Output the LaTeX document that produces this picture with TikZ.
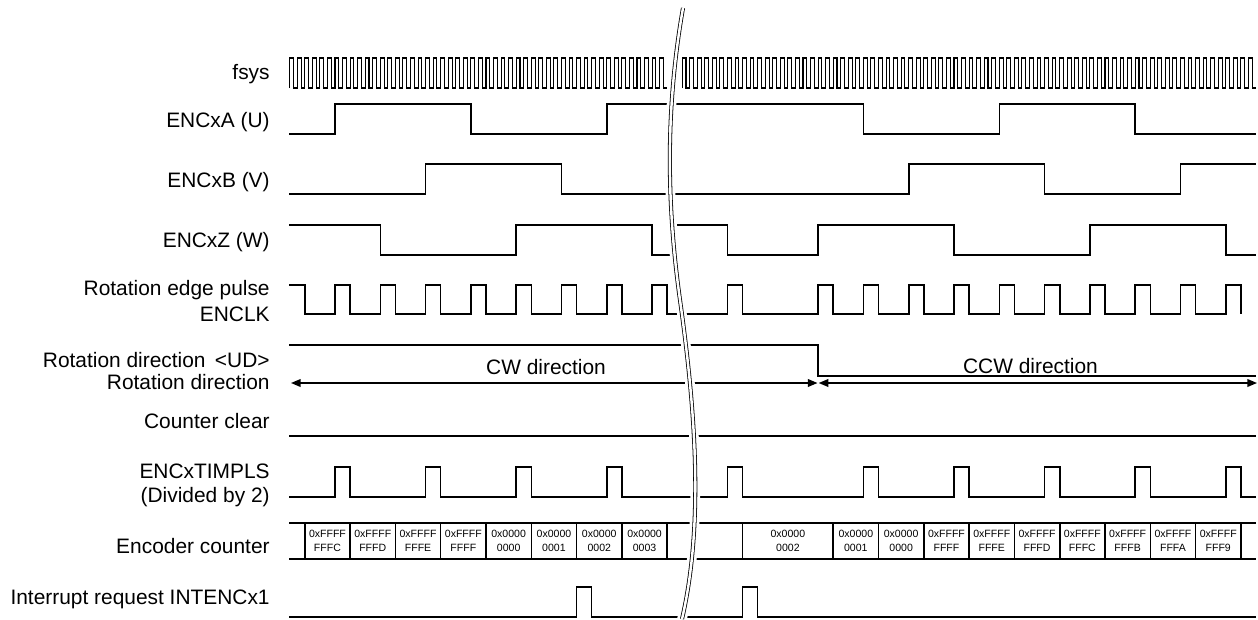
\documentclass[tikz,border=0pt]{standalone}
\usepackage{fontspec}
\setmainfont{Liberation Sans}
\usetikzlibrary{arrows.meta}

\begin{document}
\begin{tikzpicture}[
    x=0.02cm, y=-0.02cm,
    wave/.style={
        line width=0.9pt,
        line join=miter
    },
    clock/.style={
        line width=0.6pt
    },
    siglabel/.style={
        anchor=base east,
        inner sep=0pt,
        font=\fontsize{11.9}{14}\selectfont
    },
    dirtext/.style={
        anchor=base,
        inner sep=0pt,
        font=\fontsize{11.9}{14}\selectfont
    },
    cntval/.style={
        align=center,
        inner sep=0pt,
        font=\fontsize{6}{8.3}\selectfont
    },
    dirarrow/.style={
        {Triangle[length=5.5pt,width=4.4pt]}-{Triangle[length=5.5pt,width=4.4pt]},
        line width=0.8pt
    },
    breakgap/.style={
        white,
        line width=5.5pt
    },
    breakline/.style={
        double=white,
        double distance=1.4pt,
        line width=0.45pt
    }
]
\useasboundingbox (0,0) rectangle (1258,619);

% ===== signal names =====
\node[siglabel] (lfsys) at (270,79) {fsys};
\node[siglabel] (lenca) at (270,127) {ENCxA (U)};
\node[siglabel] (lencb) at (270,187) {ENCxB (V)};
\node[siglabel] (lencz) at (270,247) {ENCxZ (W)};
\node[siglabel] (ledge) at (270,295) {Rotation edge pulse};
\node[siglabel] (lenclk) at (270,321) {ENCLK};
\node[siglabel] (lud) at (270,367) {Rotation direction\hspace{0.45em}<UD>};
\node[siglabel] (ldir) at (270,389) {Rotation direction};
\node[siglabel] (lclr) at (270,428) {Counter clear};
\node[siglabel] (ltim) at (270,478) {ENCxTIMPLS};
\node[siglabel] (ldiv) at (270,502) {(Divided by 2)};
\node[siglabel] (lcnt) at (270,553) {Encoder counter};
\node[siglabel] (lint) at (270,604) {Interrupt request INTENCx1};

% ===== fsys =====
\draw[clock] (289.7,88) \foreach \i in {0,...,49} { -- ++(0,-30) -- ++(3.775,0) -- ++(0,30) -- ++(3.775,0) };
\draw[clock] (682.2,88) \foreach \i in {0,...,75} { -- ++(0,-30) -- ++(3.775,0) -- ++(0,30) -- ++(3.775,0) };

% ===== ENCxA / ENCxB / ENCxZ =====
\draw[wave] (289,134) -- (335,134) -- (335,104) -- (470.9,104) -- (470.9,134) -- (606.8,134) -- (606.8,104)
    -- (863.4,104) -- (863.4,134) -- (999.3,134) -- (999.3,104) -- (1135.2,104) -- (1135.2,134) -- (1256,134);
\draw[wave] (289,194) -- (425.6,194) -- (425.6,164) -- (561.5,164) -- (561.5,194)
    -- (908.7,194) -- (908.7,164) -- (1044.6,164) -- (1044.6,194) -- (1180.5,194) -- (1180.5,164) -- (1256,164);
\draw[wave] (289,225) -- (380.3,225) -- (380.3,255) -- (516.2,255) -- (516.2,225) -- (652.1,225) -- (652.1,255)
    -- (672,255) -- (672,225) -- (727.5,225) -- (727.5,255) -- (818.1,255) -- (818.1,225) -- (954,225) -- (954,255)
    -- (1089.9,255) -- (1089.9,225) -- (1225.8,225) -- (1225.8,255) -- (1256,255);

% ===== ENCLK =====
\draw[wave] (289,285) -- (304.8,285) -- (304.8,314)
    \foreach \t in {335,380.3,425.6,470.9,516.2,561.5,606.8,652.1} { -- (\t,314) -- (\t,285) -- (\t+15.1,285) -- (\t+15.1,314) }
    \foreach \t in {727.5,818.1,863.4,908.7,954,999.3,1044.6,1089.9,1135.2,1180.5,1225.8} { -- (\t,314) -- (\t,285) -- (\t+15.1,285) -- (\t+15.1,314) };

% ===== rotation direction =====
\draw[wave] (289,345) -- (818.1,345) -- (818.1,376) -- (1256,376);
\coordinate (cwL) at (291,383);
\coordinate (cwR) at (817.5,383);
\coordinate (ccwL) at (818.7,383);
\coordinate (ccwR) at (1257,383);
\draw[dirarrow] (cwL) -- (cwR);
\draw[dirarrow] (ccwL) -- (ccwR);
\node[dirtext] (cw) at (546,374) {CW direction};
\node[dirtext] (ccw) at (1030.5,373) {CCW direction};

% ===== counter clear =====
\draw[wave] (289,436) -- (1256,436);

% ===== ENCxTIMPLS =====
\draw[wave] (289,497)
    \foreach \t in {335,425.6,516.2,606.8,727.5,863.4,954,1044.6,1135.2,1225.8} { -- (\t,497) -- (\t,467) -- (\t+15.1,467) -- (\t+15.1,497) }
    -- (1256,497);

% ===== encoder counter =====
\draw[wave] (289,523) -- (1256,523);
\draw[wave] (289,559) -- (1256,559);
\foreach \x in {304.8,350.1,395.4,440.7,486,531.3,576.6,621.9,667.2,742.6,833.2,878.5,923.8,969.1,1014.4,1059.7,1105,1150.3,1195.6,1240.9}
    \draw[wave] (\x,523) -- (\x,559);
\foreach \x/\a/\b [count=\i] in {327.45/0xFFFF/FFFC, 372.75/0xFFFF/FFFD, 418.05/0xFFFF/FFFE, 463.35/0xFFFF/FFFF,
        508.65/0x0000/0000, 553.95/0x0000/0001, 599.25/0x0000/0002, 644.55/0x0000/0003,
        787.9/0x0000/0002, 855.85/0x0000/0001, 901.15/0x0000/0000, 946.45/0xFFFF/FFFF,
        991.75/0xFFFF/FFFE, 1037.05/0xFFFF/FFFD, 1082.35/0xFFFF/FFFC, 1127.65/0xFFFF/FFFB,
        1172.95/0xFFFF/FFFA, 1218.25/0xFFFF/FFF9}
    \node[cntval] (val\i) at (\x,541) {\a\\\b};

% ===== interrupt =====
\draw[wave] (289,617) -- (576.6,617) -- (576.6,587) -- (591.7,587) -- (591.7,617) -- (742.6,617) -- (742.6,587)
    -- (757.7,587) -- (757.7,617) -- (1256,617);

% ===== time break =====
\draw[breakgap] (683,8) .. controls (666,105) and (666,200) .. (680,300) .. controls (694,400) and (705,520) .. (682,619);
\draw[breakline] (683,8) .. controls (666,105) and (666,200) .. (680,300) .. controls (694,400) and (705,520) .. (682,619);

\end{tikzpicture}
\end{document}
